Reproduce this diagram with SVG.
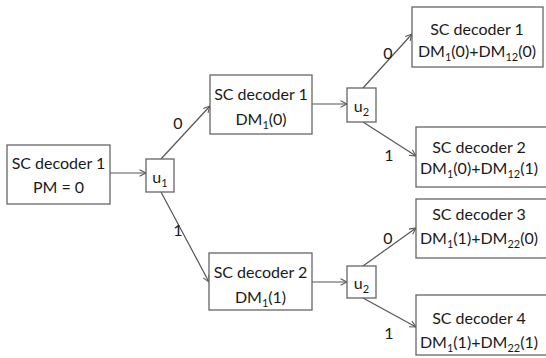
<svg xmlns="http://www.w3.org/2000/svg" width="546" height="358" viewBox="0 0 546 358">
<style>
.box{fill:#fff;stroke:#666;stroke-width:1.3}
.t{font-family:Lato,"Open Sans","Liberation Sans",sans-serif;font-size:16px;fill:#1a1a1a;text-anchor:middle}
.s{font-size:11px}
.lbl{font-family:Lato,"Open Sans","Liberation Sans",sans-serif;font-size:16px;fill:#1a1a1a;text-anchor:middle}
.c{stroke:#555;stroke-width:1.2;fill:none;marker-end:url(#ah)}
</style>
<defs>
<marker id="ah" viewBox="0 0 10 10" refX="9" refY="5" markerWidth="8" markerHeight="8" markerUnits="userSpaceOnUse" orient="auto">
<path d="M1,1 L9,5 L1,9" fill="none" stroke="#555" stroke-width="1.3"/>
</marker>
</defs>
<rect width="546" height="358" fill="#fff"/>
<g id="connectors">
<line class="c" x1="110" y1="173" x2="146" y2="173"/>
<line class="c" x1="161" y1="159" x2="210" y2="106"/>
<line class="c" x1="161" y1="192" x2="209" y2="282"/>
<line class="c" x1="312" y1="104" x2="347" y2="104"/>
<line class="c" x1="312" y1="282" x2="347" y2="282"/>
<line class="c" x1="363" y1="88" x2="412" y2="34"/>
<line class="c" x1="363" y1="122" x2="416" y2="156"/>
<line class="c" x1="363" y1="266" x2="416" y2="228"/>
<line class="c" x1="363" y1="298" x2="416" y2="327"/>
<text class="lbl" x="178" y="129">0</text>
<text class="lbl" x="178" y="236">1</text>
<text class="lbl" x="388" y="59">0</text>
<text class="lbl" x="389" y="161">1</text>
<text class="lbl" x="388" y="244">0</text>
<text class="lbl" x="389" y="339">1</text>
</g>
<g id="root">
<rect class="box" x="7" y="145" width="103" height="59"/>
<text class="t" x="58.5" y="169">SC decoder 1</text>
<text class="t" x="58.5" y="193">PM = 0</text>
</g>
<g id="u1">
<rect class="box" x="146" y="159" width="28" height="33"/>
<text class="t" x="160" y="183">u<tspan class="s" dy="4">1</tspan></text>
</g>
<g id="dec1a">
<rect class="box" x="210" y="75" width="102" height="59"/>
<text class="t" x="261" y="100">SC decoder 1</text>
<text class="t" x="261" y="125">DM<tspan class="s" dy="4">1</tspan><tspan dy="-4">(0)</tspan></text>
</g>
<g id="dec2a">
<rect class="box" x="209" y="253" width="103" height="57"/>
<text class="t" x="260.5" y="278">SC decoder 2</text>
<text class="t" x="260.5" y="303">DM<tspan class="s" dy="4">1</tspan><tspan dy="-4">(1)</tspan></text>
</g>
<g id="u2a">
<rect class="box" x="347" y="88" width="29" height="34"/>
<text class="t" x="361.5" y="112">u<tspan class="s" dy="4">2</tspan></text>
</g>
<g id="u2b">
<rect class="box" x="347" y="266" width="29" height="32"/>
<text class="t" x="361.5" y="289">u<tspan class="s" dy="4">2</tspan></text>
</g>
<g id="leaf1">
<rect class="box" x="412" y="7" width="131" height="60"/>
<text class="t" x="477" y="35">SC decoder 1</text>
<text class="t" x="477" y="57">DM<tspan class="s" dy="4">1</tspan><tspan dy="-4">(0)+DM</tspan><tspan class="s" dy="4">12</tspan><tspan dy="-4">(0)</tspan></text>
</g>
<g id="leaf2">
<rect class="box" x="416" y="127" width="131" height="60"/>
<text class="t" x="479" y="153">SC decoder 2</text>
<text class="t" x="479" y="174">DM<tspan class="s" dy="4">1</tspan><tspan dy="-4">(0)+DM</tspan><tspan class="s" dy="4">12</tspan><tspan dy="-4">(1)</tspan></text>
</g>
<g id="leaf3">
<rect class="box" x="416" y="199" width="131" height="59"/>
<text class="t" x="479" y="220">SC decoder 3</text>
<text class="t" x="479" y="244">DM<tspan class="s" dy="4">1</tspan><tspan dy="-4">(1)+DM</tspan><tspan class="s" dy="4">22</tspan><tspan dy="-4">(0)</tspan></text>
</g>
<g id="leaf4">
<rect class="box" x="416" y="295" width="131" height="60"/>
<text class="t" x="479" y="324">SC decoder 4</text>
<text class="t" x="479" y="348">DM<tspan class="s" dy="4">1</tspan><tspan dy="-4">(1)+DM</tspan><tspan class="s" dy="4">22</tspan><tspan dy="-4">(1)</tspan></text>
</g>
</svg>
